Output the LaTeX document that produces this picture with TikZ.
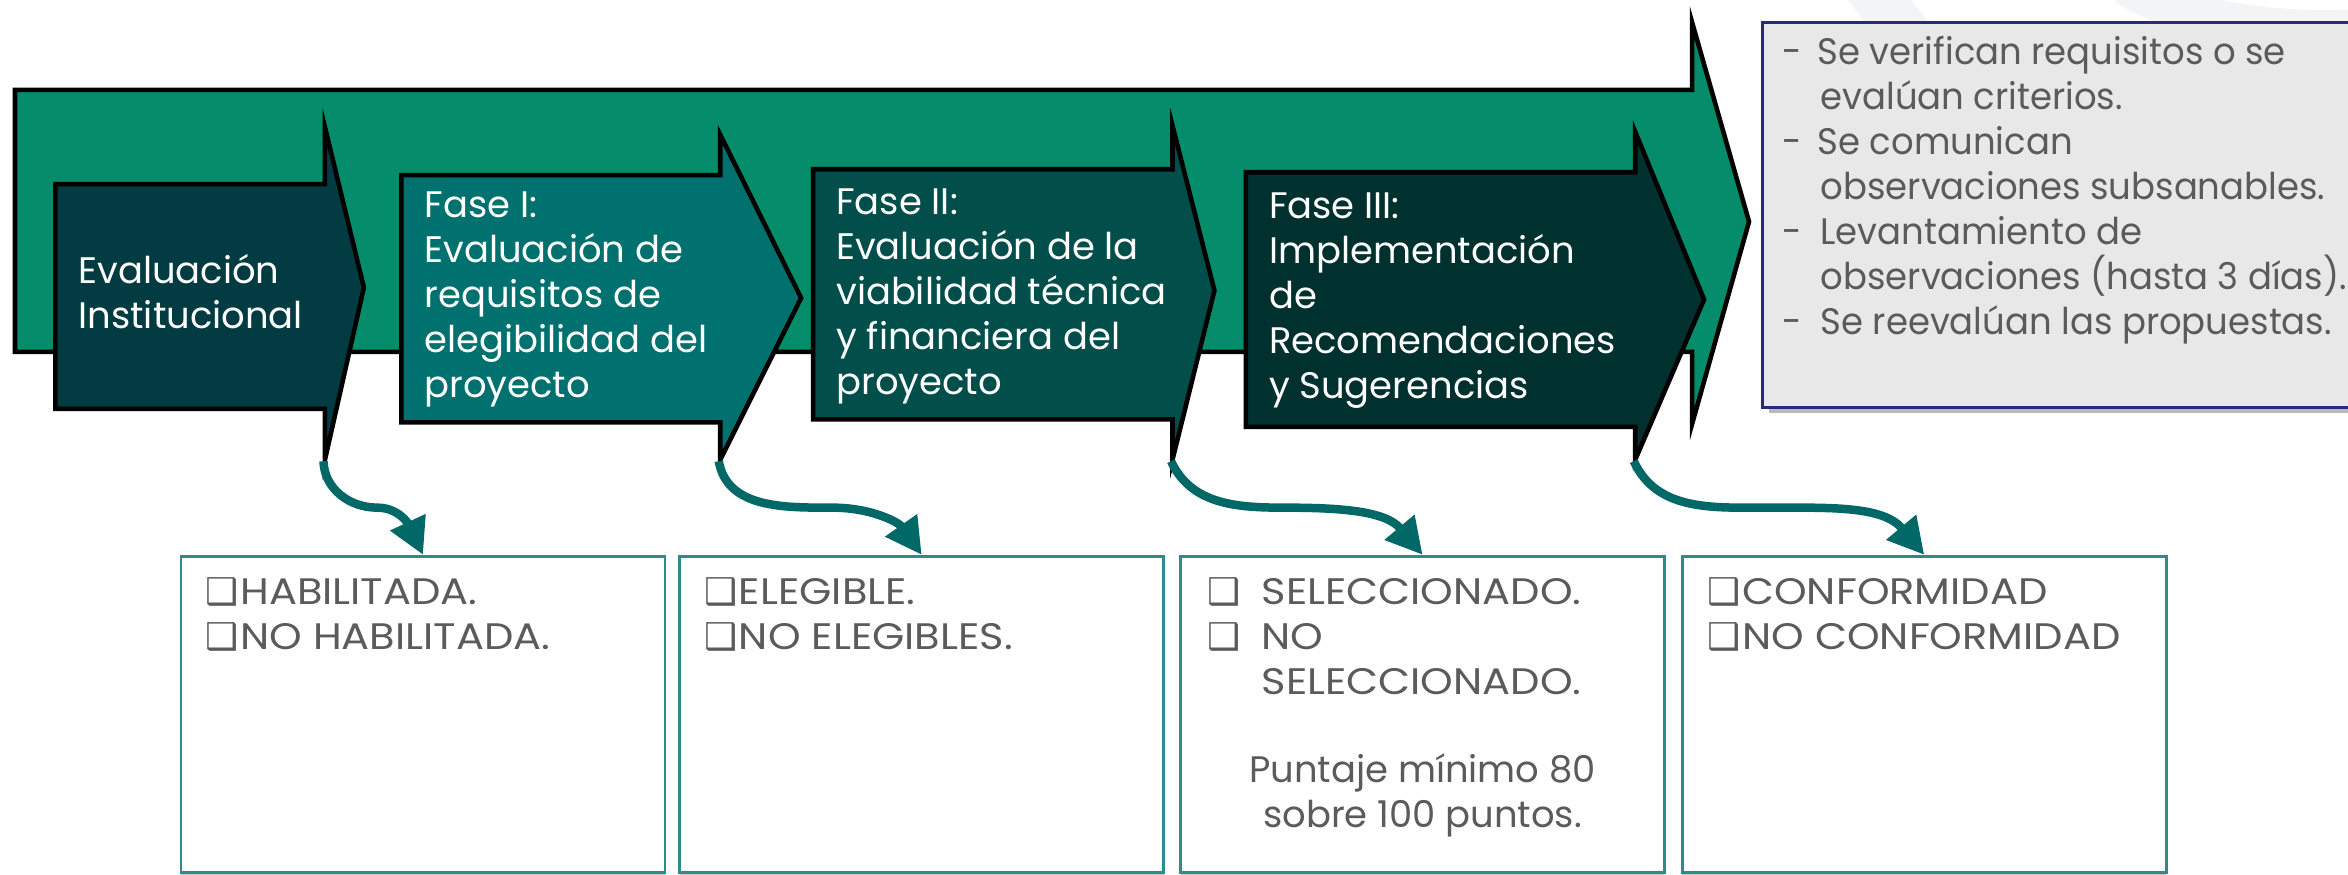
\documentclass[tikz,border=0pt]{standalone}
\usepackage{fontspec}
\setmainfont{Poppins}
\newfontfamily\notefont{Poppins}[FakeStretch=0.96]
\newfontfamily\capsfont{Poppins}[FakeStretch=1.125]
\newfontfamily\symfont{DejaVu Sans}
\usetikzlibrary{arrows.meta}
\definecolor{biggreen}{HTML}{048C6B}
\definecolor{cone}{HTML}{023C42}
\definecolor{ctwo}{HTML}{00716E}
\definecolor{cthree}{HTML}{014E4B}
\definecolor{cfour}{HTML}{00312F}
\definecolor{conncol}{HTML}{006967}
\definecolor{boxline}{HTML}{2B8C89}
\definecolor{txtgray}{HTML}{5B5B5B}
\definecolor{notefill}{HTML}{E8E8E8}
\definecolor{noteline}{HTML}{2A2A7C}
\definecolor{faint}{HTML}{F3F4F6}
\newcommand{\chk}{{\symfont\char"2751}}
\newcommand{\chkbox}{\makebox[0.344cm][l]{\chk}}
\tikzset{
  arrowbody/.style={draw=black, line width=1.3pt, line join=miter},
  atext/.style={text=white, align=left, inner sep=0pt, anchor=west,
    font=\fontsize{10.5}{12.8}\selectfont},
  gtext/.style={text=txtgray, align=left, inner sep=0pt, anchor=west,
    font=\fontsize{10.5}{12.8}\selectfont},
  lowbox/.style={draw=boxline, line width=0.8pt, fill=white,
    minimum width=4.837cm, minimum height=3.16cm, inner sep=0pt},
  connector/.style={draw=conncol, line width=0.085cm,
    -{Triangle[width=0.37cm,length=0.36cm]}},
}
\begin{document}
\begin{tikzpicture}[x=0.014974cm, y=-0.014974cm]
\useasboundingbox (0,0) rectangle (1568,584);
% faint watermark arcs
\draw[faint, line width=0.5cm] (1240,-20) .. controls (1300,60) and (1330,90) .. (1380,110);
\draw[faint, line width=0.4cm] (1420,-10) .. controls (1480,30) and (1620,30) .. (1700,-10);
% big arrow
\draw[arrowbody, fill=biggreen] (10,60) -- (1130,60) -- (1130,15) -- (1168,148)
  -- (1130,283) -- (1130,235) -- (10,235) -- cycle;
% phase arrows
\draw[arrowbody, fill=cone] (37,123) -- (217,123) -- (217,85) -- (243,192)
  -- (217,307) -- (217,273) -- (37,273) -- cycle;
\draw[arrowbody, fill=ctwo] (268,117) -- (481,117) -- (481,90) -- (535,199)
  -- (481,307) -- (481,282) -- (268,282) -- cycle;
\draw[arrowbody, fill=cthree] (543,113) -- (783,113) -- (783,84) -- (811,194)
  -- (783,307) -- (783,280) -- (543,280) -- cycle;
\draw[arrowbody, fill=cfour] (832,115) -- (1092,115) -- (1092,88) -- (1138,200)
  -- (1092,307) -- (1092,285) -- (832,285) -- cycle;
\coordinate (h1) at (216,308);
\coordinate (h2) at (480,308);
\coordinate (h3) at (782,308);
\coordinate (h4) at (1091,308);
\coordinate (m1) at (252,339);
\coordinate (m2) at (556,339);
\coordinate (m3) at (857,339);
\coordinate (m4) at (1180,339);
% arrow texts
\node[atext] (t1) at (52,195) {Evaluación\\Institucional};
\node[atext] (t2) at (283,200) {Fase I:\\Evaluación de\\requisitos de\\elegibilidad del\\proyecto};
\node[atext] (t3) at (558,198) {Fase II:\\Evaluación de la\\viabilidad técnica\\y financiera del\\proyecto};
\node[atext] (t4) at (847,201) {Fase III:\\Implementación\\de\\Recomendaciones\\y Sugerencias};
% note box
\fill[gray!55] (1181,19) rectangle (1580,276);
\draw[draw=noteline, line width=0.8pt, fill=notefill] (1177,15) rectangle (1576,272);
\node[gtext, font=\fontsize{10.5}{12.8}\notefont] (note) at (1190,127) {\makebox[0.35cm][l]{-}Se verifican requisitos o se\\
\hspace*{0.38cm}evalúan criterios.\\
\makebox[0.35cm][l]{-}Se comunican\\
\hspace*{0.38cm}observaciones subsanables.\\
\makebox[0.38cm][l]{-}Levantamiento de\\
\hspace*{0.38cm}observaciones (hasta 3 días).\\
\makebox[0.38cm][l]{-}Se reevalúan las propuestas.};
% lower boxes
\foreach \cx in {282.5,615.5,950,1285}{
  \fill[gray!45] (\cx-161.5,580) rectangle (\cx+161.5,586);
}
\node[lowbox] (b1) at (282.5,477) {};
\node[lowbox] (b2) at (615.5,477) {};
\node[lowbox] (b3) at (950,477) {};
\node[lowbox] (b4) at (1285,477) {};
\node[gtext, font=\fontsize{10.5}{12.8}\capsfont] (l1) at (137,410) {\chkbox HABILITADA.\\\chkbox NO HABILITADA.};
\node[gtext, font=\fontsize{10.5}{12.8}\capsfont] (l2) at (470,410) {\chkbox ELEGIBLE.\\\chkbox NO ELEGIBLES.};
\node[gtext, font=\fontsize{10.5}{12.8}\capsfont] (l3) at (806,425) {\makebox[0.54cm][l]{\chk}SELECCIONADO.\\
\makebox[0.54cm][l]{\chk}NO\\\hspace*{0.54cm}SELECCIONADO.};
\node[gtext, anchor=center, align=center, font=\fontsize{10.5}{12.8}\selectfont] (l3b) at (950,531) {Puntaje mínimo 80\\sobre 100 puntos.};
\node[gtext, font=\fontsize{10.5}{12.8}\capsfont] (l4) at (1140,410) {\chkbox CONFORMIDAD\\\chkbox NO CONFORMIDAD};
% connectors
\draw[connector] (h1) to[out=-88,in=180] (m1) to[out=0,in=115] (b1.north);
\draw[connector] (h2) to[out=-80,in=180] (m2) to[out=0,in=125] (b2.north);
\draw[connector] (h3) to[out=-65,in=180] (m3) to[out=0,in=130] (b3.north);
\draw[connector] (h4) to[out=-65,in=180] (m4) to[out=0,in=130] (b4.north);
\end{tikzpicture}
\end{document}
